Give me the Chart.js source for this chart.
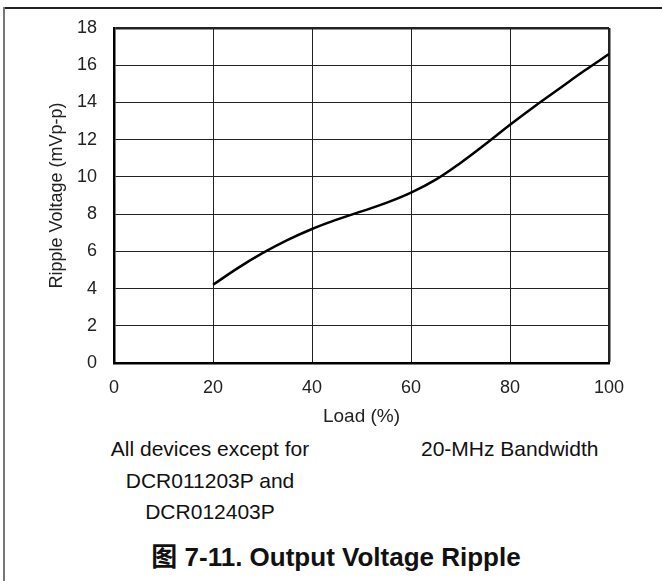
<!DOCTYPE html>
<html>
<head>
<meta charset="utf-8">
<script src="https://cdn.jsdelivr.net/npm/chart.js@4.4.1/dist/chart.umd.min.js"></script>
<style>
  body { margin: 0; background: #fff; }
  #page { position: relative; width: 662px; height: 581px; overflow: hidden; font-family: "Liberation Sans", Arial, sans-serif; color: #111; }
  #frame-top { position: absolute; left: 3px; top: 7px; width: 659px; height: 0; border-top: 2px solid #222; }
  #frame-left { position: absolute; left: 3px; top: 7px; width: 0; height: 574px; border-left: 2px solid #777; }
  #chart { position: absolute; left: 0; top: 0; }
  .note { position: absolute; font-size: 21px; line-height: 31.5px; white-space: nowrap; }
  #note-left { left: 90px; top: 433px; width: 240px; text-align: center; }
  #note-right { left: 421px; top: 433px; }
  #caption { position: absolute; left: 0; width: 672px; top: 542px; text-align: center; font-size: 26px; line-height: 31px; font-weight: bold; font-family: "Liberation Sans", "Noto Sans CJK SC", sans-serif; }
</style>
</head>
<body>
<div id="page">
  <div id="frame-top"></div>
  <div id="frame-left"></div>
  <canvas id="chart" width="662" height="430"></canvas>
  <div class="note" id="note-left">All devices except for<br>DCR011203P and<br>DCR012403P</div>
  <div class="note" id="note-right">20-MHz Bandwidth</div>
  <div id="caption">图 7-11. Output Voltage Ripple</div>
</div>
<script>
const loads = [20, 25, 30, 35, 40, 45, 50, 55, 60, 65, 70, 75, 80, 85, 90, 95, 100];
const ripple = [4.2, 5.1, 5.9, 6.6, 7.2, 7.7, 8.15, 8.6, 9.15, 9.85, 10.75, 11.75, 12.8, 13.8, 14.75, 15.7, 16.6];
const xTicks = [0, 20, 40, 60, 80, 100];
const yTicks = [0, 2, 4, 6, 8, 10, 12, 14, 16, 18];

const points = loads.map((x, i) => ({ x: x, y: ripple[i] }));

// edge grid lines double as the top/right frame of the plot
const edgeWidth = (max) => (ctx) => (ctx.tick && ctx.tick.value === max ? 2.5 : 1);

new Chart(document.getElementById('chart').getContext('2d'), {
    type: 'line',
    data: {
        datasets: [{
            data: points,
            borderColor: '#000',
            borderWidth: 2.5,
            pointRadius: 0,
            tension: 0.4,
            fill: false
        }]
    },
    options: {
        responsive: false,
        animation: false,
        events: [],
        layout: { padding: { top: 28, right: 53, left: 0, bottom: 0 } },
        plugins: { legend: { display: false }, tooltip: { enabled: false } },
        scales: {
            x: {
                type: 'linear',
                min: 0,
                max: 100,
                afterBuildTicks: (scale) => { scale.ticks = xTicks.map(v => ({ value: v })); },
                afterFit: (scale) => { scale.height = 67; },
                ticks: { color: '#222', padding: 14, font: { family: 'Liberation Sans', size: 18 } },
                grid: { color: '#222', lineWidth: edgeWidth(100), drawTicks: false },
                border: { display: true, color: '#000', width: 2.5 },
                title: {
                    display: true,
                    text: 'Load (%)',
                    color: '#222',
                    font: { family: 'Liberation Sans', size: 19 },
                    padding: { top: 0, bottom: 2 }
                }
            },
            y: {
                min: 0,
                max: 18,
                afterBuildTicks: (scale) => { scale.ticks = yTicks.map(v => ({ value: v })); },
                afterFit: (scale) => { scale.width = 114; },
                ticks: { color: '#222', padding: 17, font: { family: 'Liberation Sans', size: 18 } },
                grid: { color: '#222', lineWidth: edgeWidth(18), drawTicks: false },
                border: { display: true, color: '#000', width: 2.5 },
                title: {
                    display: true,
                    text: 'Ripple Voltage (mVp-p)',
                    color: '#222',
                    font: { family: 'Liberation Sans', size: 18 },
                    padding: { top: 46, bottom: 0 }
                }
            }
        }
    }
});
</script>
</body>
</html>
